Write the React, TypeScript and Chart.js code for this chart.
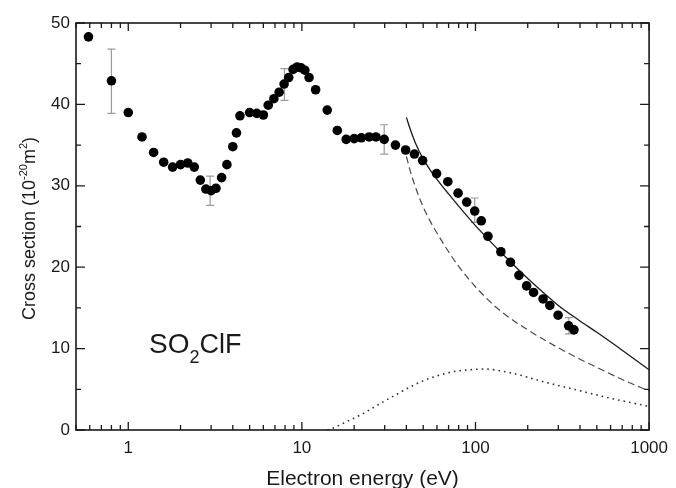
import React, { useEffect, useRef } from "react";
import { Chart, registerables } from "chart.js";

Chart.register(...registerables);

// Measured total cross section (points)
const energy = [0.59, 0.8, 1.0, 1.2, 1.4, 1.6, 1.8, 2.0, 2.2, 2.4, 2.6, 2.8, 3.0, 3.2, 3.45, 3.7, 4.0, 4.2, 4.4, 5.0, 5.5, 6.0, 6.4, 6.9, 7.4, 7.9, 8.4, 8.9, 9.4, 9.9, 10.4, 11, 12, 14, 16, 18, 20, 22, 24.4, 26.7, 29.8, 34.6, 39.6, 44.5, 49.6, 59.7, 69.3, 79.4, 89, 99, 108, 118, 140, 159, 178, 197, 216, 245, 268, 299, 344, 369];
const crossSection = [48.3, 42.9, 39.0, 36.0, 34.1, 32.9, 32.3, 32.6, 32.8, 32.3, 30.7, 29.6, 29.4, 29.7, 31.0, 32.6, 34.8, 36.5, 38.6, 39.0, 38.9, 38.7, 39.9, 40.7, 41.5, 42.5, 43.3, 44.3, 44.6, 44.5, 44.2, 43.3, 41.8, 39.3, 36.8, 35.7, 35.8, 35.9, 36.0, 36.0, 35.7, 35.0, 34.4, 33.9, 33.1, 31.5, 30.5, 29.1, 28.0, 26.9, 25.7, 23.8, 21.9, 20.6, 19.0, 17.7, 16.9, 16.1, 15.3, 14.1, 12.8, 12.3];

// Error bars
const errEnergy = [0.8, 2.96, 7.94, 29.8, 99, 345];
const errLow = [38.9, 27.6, 40.5, 33.9, 25.5, 11.8];
const errHigh = [46.8, 31.2, 44.4, 37.5, 28.5, 13.8];

// Solid curve
const solidE = [40, 42, 45, 50, 55, 60, 70, 80, 100, 120, 150, 200, 300, 400, 500, 700, 1000];
const solidY = [38.4, 37.0, 35.3, 33.3, 31.9, 30.8, 29.0, 27.5, 25.1, 23.3, 21.2, 18.6, 15.3, 13.4, 12.0, 9.8, 7.4];

// Dashed curve
const dashedE = [40, 42, 45, 50, 55, 60, 70, 80, 100, 125, 150, 200, 300, 400, 500, 700, 1000];
const dashedY = [33.6, 31.9, 29.9, 27.4, 25.6, 24.2, 21.9, 20.1, 17.6, 15.5, 14.1, 12.3, 10.1, 8.7, 7.7, 6.2, 4.8];

// Dotted curve
const dottedE = [14, 15, 18, 22.4, 28, 34.6, 45, 53.6, 76, 100, 110, 161, 249, 386, 600, 1000];
const dottedY = [0, 0.2, 1.0, 2.0, 3.2, 4.3, 5.6, 6.3, 7.2, 7.45, 7.5, 7.0, 5.9, 4.9, 3.9, 2.9];

const xMajor = [1, 10, 100, 1000];
const yMajor = [0, 10, 20, 30, 40, 50];
const yMinor = [5, 15, 25, 35, 45];

const FONT = "'Liberation Sans', Arial, sans-serif";

const pts = (xs: number[], ys: number[]) => xs.map((x, i) => ({ x, y: ys[i] }));

function drawRich(ctx: CanvasRenderingContext2D, parts: { t: string; size: number; dy: number }[], x: number, y: number, align: "center" | "left") {
  let total = 0;
  for (const p of parts) {
    ctx.font = `${p.size}px ${FONT}`;
    total += ctx.measureText(p.t).width;
  }
  let cx = align === "center" ? x - total / 2 : x;
  for (const p of parts) {
    ctx.font = `${p.size}px ${FONT}`;
    ctx.fillText(p.t, cx, y + p.dy);
    cx += ctx.measureText(p.t).width;
  }
}

const decorPlugin = {
  id: "decor",
  beforeDatasetsDraw(chart: any) {
    const { ctx, scales } = chart;
    const xs = scales.x, ys = scales.y;
    ctx.save();
    ctx.strokeStyle = "#9a9a9a";
    ctx.lineWidth = 1.2;
    errEnergy.forEach((e, i) => {
      const px = xs.getPixelForValue(e);
      const p1 = ys.getPixelForValue(errLow[i]);
      const p2 = ys.getPixelForValue(errHigh[i]);
      ctx.beginPath();
      ctx.moveTo(px, p1); ctx.lineTo(px, p2);
      ctx.moveTo(px - 4, p1); ctx.lineTo(px + 4, p1);
      ctx.moveTo(px - 4, p2); ctx.lineTo(px + 4, p2);
      ctx.stroke();
    });
    ctx.restore();
  },
  afterDraw(chart: any) {
    const { ctx, scales, chartArea: a } = chart;
    const xs = scales.x, ys = scales.y;
    ctx.save();
    ctx.strokeStyle = "#1a1a1a";
    ctx.lineWidth = 1.6;
    ctx.strokeRect(a.left, a.top, a.right - a.left, a.bottom - a.top);
    ctx.lineWidth = 1.3;
    ctx.beginPath();
    // x ticks
    for (let d = 0.1; d <= 1000; d *= 10) {
      for (let m = 1; m <= 9; m++) {
        const v = Math.round(m * d * 1000) / 1000;
        if (v < 0.5 || v > 1000) continue;
        const major = m === 1;
        const len = major ? 8 : 5;
        const px = xs.getPixelForValue(v);
        ctx.moveTo(px, a.bottom); ctx.lineTo(px, a.bottom - len);
        ctx.moveTo(px, a.top); ctx.lineTo(px, a.top + len);
      }
    }
    // y ticks
    const yt = (v: number, len: number) => {
      const py = ys.getPixelForValue(v);
      ctx.moveTo(a.left, py); ctx.lineTo(a.left + len, py);
      ctx.moveTo(a.right, py); ctx.lineTo(a.right - len, py);
    };
    yMajor.forEach((v) => yt(v, 9));
    yMinor.forEach((v) => yt(v, 5));
    ctx.stroke();

    ctx.fillStyle = "#1a1a1a";
    ctx.textBaseline = "alphabetic";
    ctx.textAlign = "left";
    // x title
    drawRich(ctx, [{ t: "Electron energy (eV)", size: 21, dy: 0 }], (a.left + a.right) / 2, 485, "center");
    // y title
    ctx.save();
    ctx.translate(35, (a.top + a.bottom) / 2 + 2);
    ctx.rotate(-Math.PI / 2);
    drawRich(ctx, [
      { t: "Cross section (10", size: 18, dy: 0 },
      { t: "-20", size: 11, dy: -8 },
      { t: "m", size: 18, dy: 0 },
      { t: "2", size: 11, dy: -8 },
      { t: ")", size: 18, dy: 0 },
    ], 0, 0, "center");
    ctx.restore();
    // molecule label
    drawRich(ctx, [
      { t: "SO", size: 28, dy: 0 },
      { t: "2", size: 18, dy: 10 },
      { t: "ClF", size: 27, dy: 0 },
    ], 149, 353, "left");
    ctx.restore();
  },
};

export default function App() {
  const ref = useRef<HTMLCanvasElement>(null);
  useEffect(() => {
    if (!ref.current) return;
    const chart = new Chart(ref.current, {
      type: "scatter",
      data: {
        datasets: [
          {
            label: "measured",
            data: pts(energy, crossSection),
            showLine: false,
            pointRadius: 4.8,
            pointBackgroundColor: "#000",
            pointBorderColor: "#000",
            pointBorderWidth: 0,
          },
          {
            label: "solid",
            data: pts(solidE, solidY),
            showLine: true,
            pointRadius: 0,
            borderColor: "#1a1a1a",
            borderWidth: 1.3,
            cubicInterpolationMode: "monotone",
          },
          {
            label: "dashed",
            data: pts(dashedE, dashedY),
            showLine: true,
            pointRadius: 0,
            borderColor: "#4a4a4a",
            borderWidth: 1.2,
            borderDash: [7, 4],
            cubicInterpolationMode: "monotone",
          },
          {
            label: "dotted",
            data: pts(dottedE, dottedY),
            showLine: true,
            pointRadius: 0,
            borderColor: "#333",
            borderWidth: 1.6,
            borderDash: [1.6, 4],
            cubicInterpolationMode: "monotone",
          },
        ],
      },
      options: {
        responsive: false,
        animation: false,
        layout: { padding: { top: 23, right: 20, left: 0, bottom: 0 } },
        plugins: { legend: { display: false }, tooltip: { enabled: false } },
        scales: {
          x: {
            type: "logarithmic",
            min: 0.5,
            max: 1000,
            grid: { display: false, drawTicks: false },
            border: { display: false },
            afterBuildTicks: (s: any) => {
              s.ticks = xMajor.map((v) => ({ value: v, major: true }));
            },
            afterFit: (s: any) => { s.height = 58; },
            ticks: {
              autoSkip: false,
              maxRotation: 0,
              padding: 8,
              color: "#1a1a1a",
              font: { family: FONT, size: 17 },
              callback: (v: any) => String(v),
            },
          },
          y: {
            min: 0,
            max: 50,
            grid: { display: false, drawTicks: false },
            border: { display: false },
            afterBuildTicks: (s: any) => {
              s.ticks = yMajor.map((v) => ({ value: v }));
            },
            afterFit: (s: any) => { s.width = 76; },
            ticks: {
              padding: 6,
              color: "#1a1a1a",
              font: { family: FONT, size: 17 },
              callback: (v: any) => String(v),
            },
          },
        },
      },
      plugins: [decorPlugin],
    });
    return () => chart.destroy();
  }, []);
  return (
    <div style={{ position: "fixed", left: 0, top: 0, width: 676, height: 488, background: "#fff" }}>
      <canvas ref={ref} width={676} height={488} style={{ display: "block" }} />
    </div>
  );
}
